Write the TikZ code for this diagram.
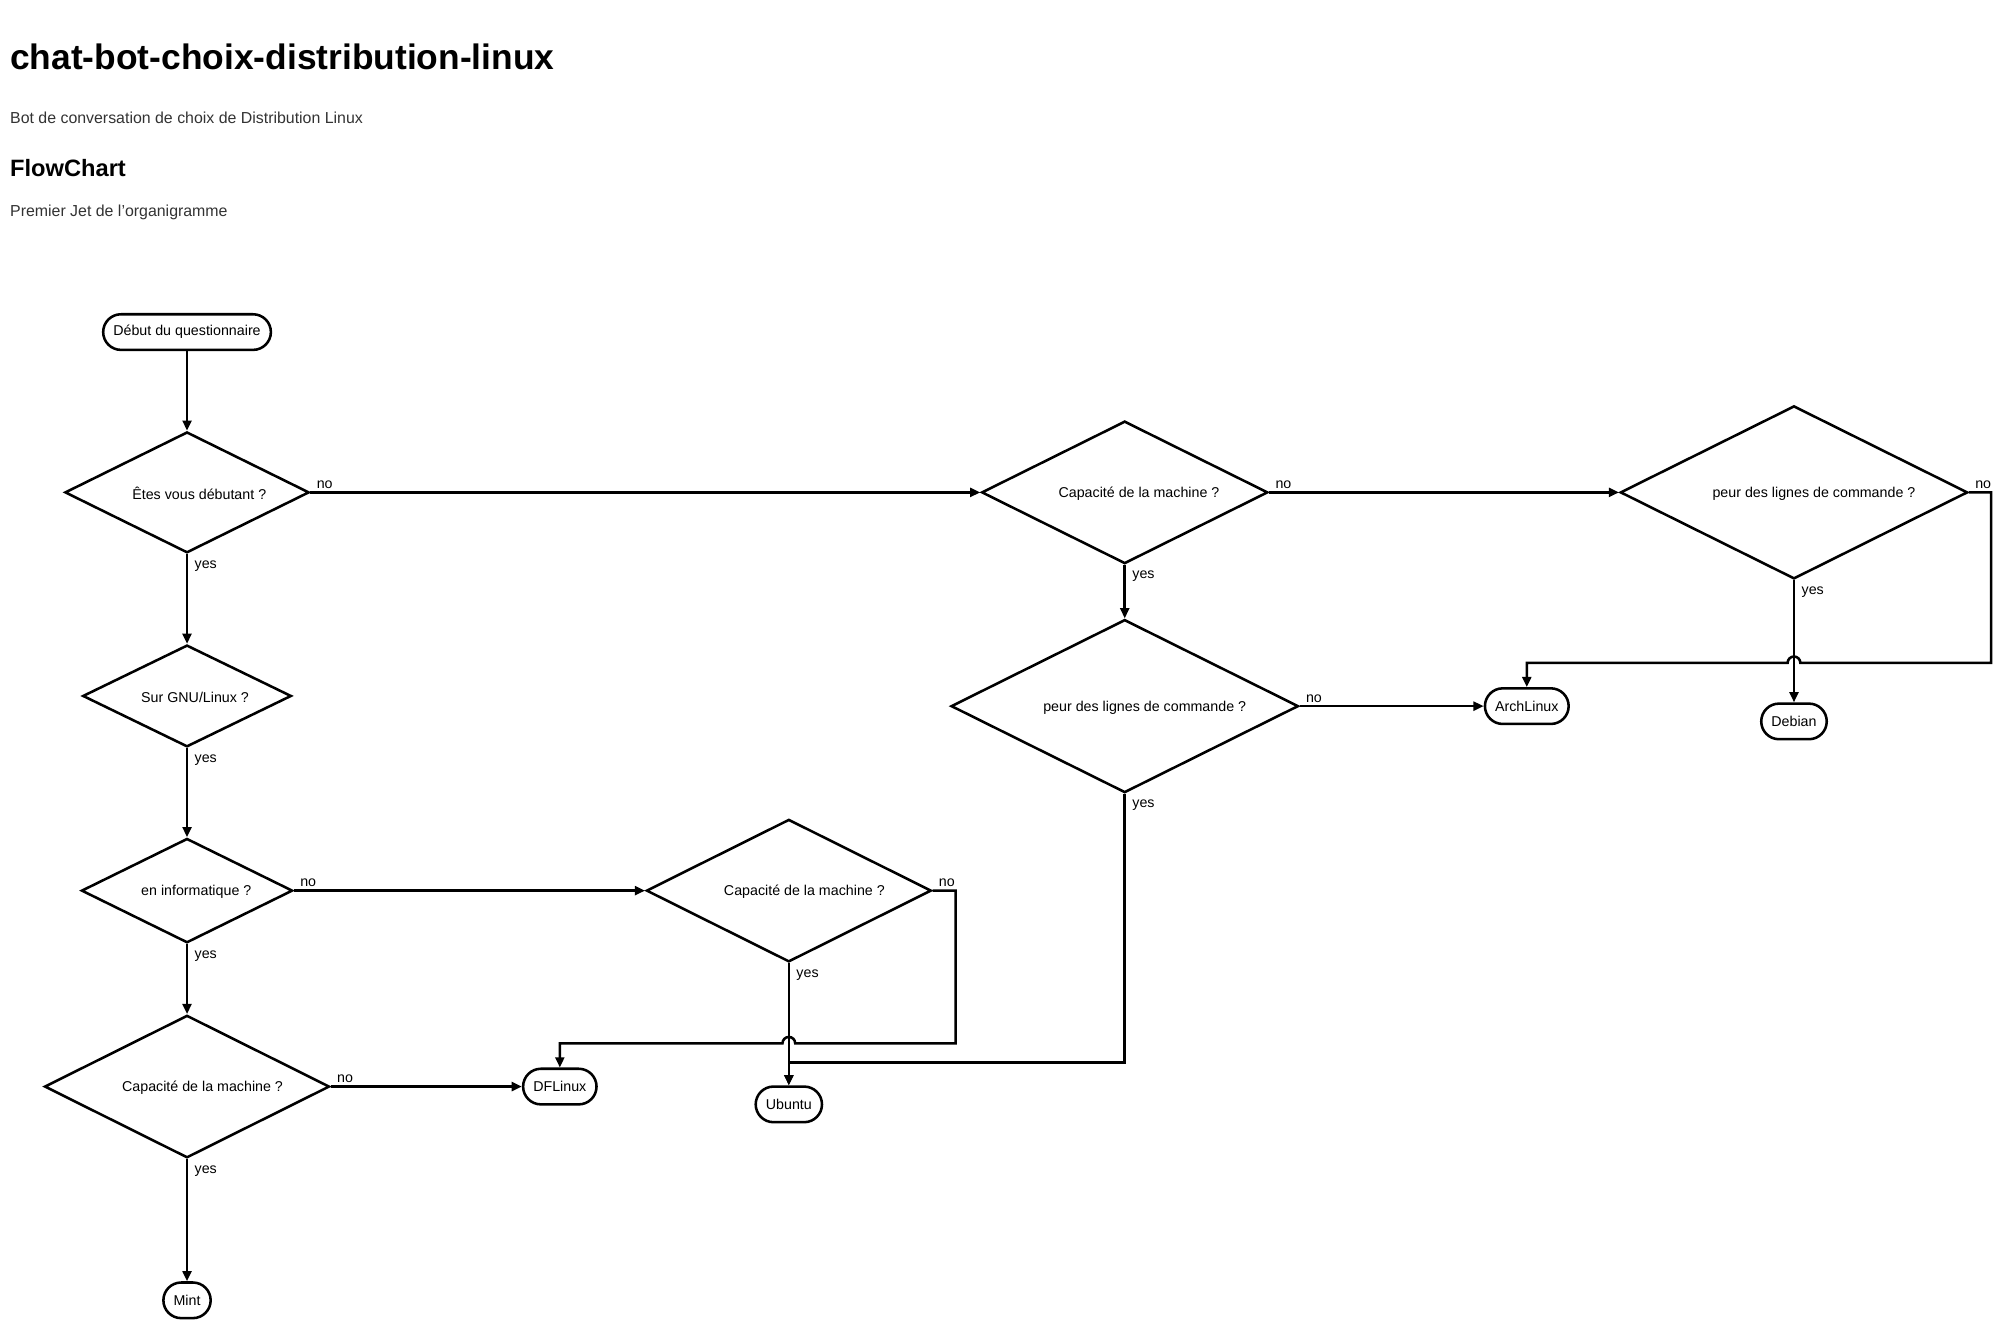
\documentclass[tikz,border=0pt]{standalone}
\usepackage{fontspec}
\setmainfont{Liberation Sans}
\usetikzlibrary{shapes.geometric,arrows.meta}
\definecolor{txt}{HTML}{333333}
\begin{document}
\begin{tikzpicture}[x=1pt,y=-1pt,
  line width=2pt,
  nfont/.style={font=\fontsize{11.2}{13}\selectfont},
  term/.style={draw, rounded corners=14pt, minimum height=28pt, inner xsep=8pt, inner ysep=0pt, nfont},
  dia/.style={draw, diamond, inner sep=0pt},
  dtext/.style={anchor=west, inner sep=0pt, nfont, yshift=-1pt},
  labno/.style={anchor=south west, inner sep=0pt, xshift=4pt, yshift=2pt, nfont},
  labyes/.style={anchor=north west, inner sep=0pt, xshift=5pt, yshift=-4pt, nfont},
  arr/.style={-{Triangle[length=8pt,width=7pt]}, line width=2pt},
]
\useasboundingbox[fill=white] (0,0) rectangle (1568,1050.8);

% header
\node[anchor=base west, inner sep=0pt, text=black, font=\fontsize{27.8}{32}\selectfont\bfseries] (title) at (7,55) {chat-bot-choix-distribution-linux};
\node[anchor=base west, inner sep=0pt, text=txt, font=\fontsize{12.5}{15}\selectfont] (sub) at (7,97) {Bot de conversation de choix de Distribution Linux};
\node[anchor=base west, inner sep=0pt, text=black, font=\fontsize{18.6}{22}\selectfont\bfseries] (fc) at (7,139) {FlowChart};
\node[anchor=base west, inner sep=0pt, text=txt, font=\fontsize{12.5}{15}\selectfont] (pj) at (7,170) {Premier Jet de l'organigramme};

% terminals
\node[term] (start) at (147,261) {Début du questionnaire};
\node[term] (mint) at (147,1022) {Mint};
\node[term] (df) at (440,854) {DFLinux};
\node[term] (ub) at (620,868) {Ubuntu};
\node[term] (arch) at (1200,555) {ArchLinux};
\node[term] (deb) at (1410,567) {Debian};

% decisions
\node[dia, minimum width=192pt, minimum height=95pt] (d1) at (147,387) {};
\node[dtext] at (103,387) {Êtes vous débutant ?};
\node[dia, minimum width=164pt, minimum height=80pt] (d2) at (147,547) {};
\node[dtext] at (110,547) {Sur GNU/Linux ?};
\node[dia, minimum width=166pt, minimum height=82pt] (d3) at (147,700) {};
\node[dtext] at (110,700) {en informatique ?};
\node[dia, minimum width=224pt, minimum height=112pt] (d4) at (147,854) {};
\node[dtext] at (95,854) {Capacité de la machine ?};
\node[dia, minimum width=224pt, minimum height=112pt] (d5) at (620,700) {};
\node[dtext] at (568,700) {Capacité de la machine ?};
\node[dia, minimum width=225pt, minimum height=112pt] (d6) at (884,387) {};
\node[dtext] at (831,387) {Capacité de la machine ?};
\node[dia, minimum width=273pt, minimum height=136pt] (d7) at (884,555) {};
\node[dtext] at (819,555) {peur des lignes de commande ?};
\node[dia, minimum width=273pt, minimum height=136pt] (d8) at (1410,387) {};
\node[dtext] at (1345,387) {peur des lignes de commande ?};

% connectors
\draw[arr] (start) -- (d1.north);
\draw[arr] (d1.east) -- node[labno, pos=0] {no} (d6.west);
\draw[arr] (d1.south) -- node[labyes, pos=0] {yes} (d2.north);
\draw[arr] (d2.south) -- node[labyes, pos=0] {yes} (d3.north);
\draw[arr] (d3.east) -- node[labno, pos=0] {no} (d5.west);
\draw[arr] (d3.south) -- node[labyes, pos=0] {yes} (d4.north);
\draw[arr] (d4.east) -- node[labno, pos=0] {no} (df.west);
\draw[arr] (d4.south) -- node[labyes, pos=0] {yes} (mint.north);
\draw[arr] (d5.south) -- node[labyes, pos=0] {yes} (ub.north);
\coordinate (c5a) at (751,700);
\coordinate (c5b) at (751,820);
\coordinate (c5h) at (625,820);
\draw[arr] (d5.east) -- node[labno, pos=0] {no} (c5a) -- (c5b) -- (c5h)
  arc[start angle=0, end angle=180, radius=5pt] -- (df.north |- c5b) -- (df.north);
\coordinate (c7a) at (884,835);
\draw[arr] (d7.south) -- node[labyes, pos=0] {yes} (c7a) -- (ub.north |- c7a) -- (ub.north);
\draw[arr] (d6.east) -- node[labno, pos=0] {no} (d8.west);
\draw[arr] (d6.south) -- node[labyes, pos=0] {yes} (d7.north);
\draw[arr] (d7.east) -- node[labno, pos=0] {no} (arch.west);
\draw[arr] (d8.south) -- node[labyes, pos=0] {yes} (deb.north);
\coordinate (c8a) at (1565,387);
\coordinate (c8b) at (1565,521);
\coordinate (c8h) at (1415,521);
\draw[arr] (d8.east) -- node[labno, pos=0] {no} (c8a) -- (c8b) -- (c8h)
  arc[start angle=0, end angle=180, radius=5pt] -- (arch.north |- c8b) -- (arch.north);
\end{tikzpicture}
\end{document}
